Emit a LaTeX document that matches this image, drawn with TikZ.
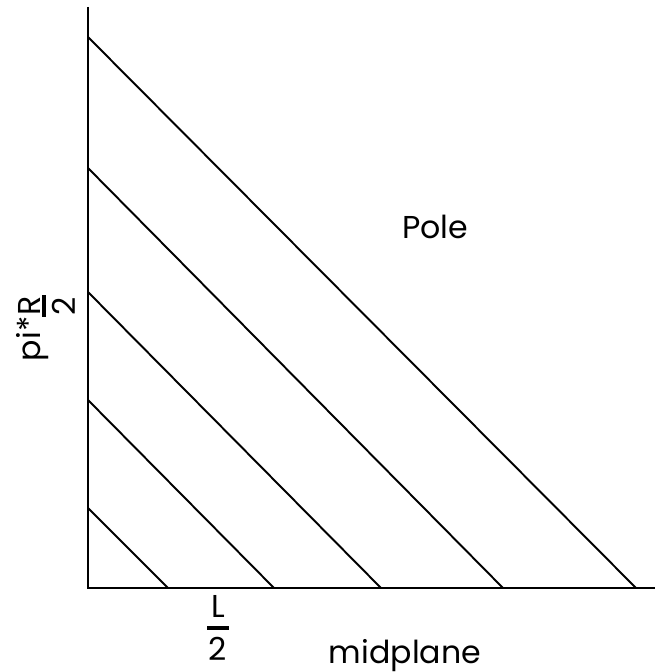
\documentclass[tikz,border=0pt]{standalone}
\usepackage{fontspec}
\setmainfont{Poppins}
\usetikzlibrary{positioning}
\newcommand{\stackfrac}[4]{\begin{tabular}[t]{@{}c@{}}#1\\[#3]\rule{12pt}{2.2pt}\\[#4]#2\end{tabular}}

\begin{document}
\begin{tikzpicture}[x=0.02cm, y=-0.02cm, line width=1.1pt,
    lbl/.style={font=\fontsize{18}{21}\selectfont, inner sep=0pt, anchor=base}]
    \useasboundingbox (0,0) rectangle (655,672);

    % Axis
    \coordinate (top) at (88,7);
    \coordinate (origin) at (88,588);
    \coordinate (right) at (655,588);
    \draw (top) -- (origin) -- (right);

    % Lines
    \coordinate (a1) at (88,37);  \coordinate (b1) at (636,588);
    \coordinate (a2) at (88,168); \coordinate (b2) at (503,588);
    \coordinate (a3) at (88,292); \coordinate (b3) at (381,588);
    \coordinate (a4) at (88,400); \coordinate (b4) at (274,588);
    \coordinate (a5) at (88,508); \coordinate (b5) at (168,588);
    \foreach \i in {1,...,5}
        \draw (a\i) -- (b\i);

    % Labels
    \node[lbl] (pole) at (435,238) {Pole};
    \node[lbl] (mid) at (405,663) {midplane};
    \node[lbl, text depth=26pt] (lhalf) at (218,617) {\stackfrac{L}{2}{-13.6pt}{-3.5pt}};
    \node[lbl, anchor=base west, rotate=90] (rhalf) at (40,362)
        {pi*\stackfrac{R}{2}{-17.8pt}{-4pt}};
\end{tikzpicture}
\end{document}
